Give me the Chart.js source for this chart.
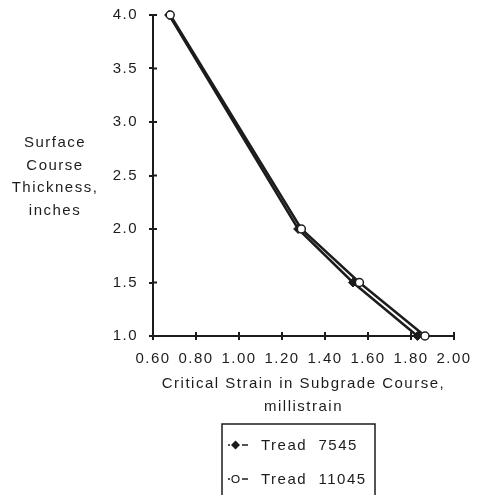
<!DOCTYPE html>
<html>
<head>
<meta charset="utf-8">
<script src="https://cdn.jsdelivr.net/npm/chart.js@4/dist/chart.umd.min.js"></script>
<style>
  html, body { margin: 0; padding: 0; background: #fff; }
  #wrap { width: 477px; height: 495px; position: relative; }
</style>
</head>
<body>
<div id="wrap"><canvas id="c" width="477" height="495"></canvas></div>
<script>
// ---- data ----
const thickness = [4.0, 2.0, 1.5, 1.0];               // surface course thickness, inches
const strain7545 = [0.675, 1.275, 1.53, 1.83];        // millistrain
const strain11045 = [0.68, 1.29, 1.56, 1.865];        // millistrain
const seriesNames = ['Tread  7545', 'Tread  11045'];
const xTickValues = [0.6, 0.8, 1.0, 1.2, 1.4, 1.6, 1.8, 2.0];
const xTickLabels = ['0.60', '0.80', '1.00', '1.20', '1.40', '1.60', '1.80', '2.00'];
const yTickValues = [1.0, 1.5, 2.0, 2.5, 3.0, 3.5, 4.0];
const yTickLabels = ['1.0', '1.5', '2.0', '2.5', '3.0', '3.5', '4.0'];
const xTitle = ['Critical Strain in Subgrade Course,', 'millistrain'];
const yTitle = ['Surface', 'Course', 'Thickness,', 'inches'];

const INK = '#1c1c1c';
const FONT = "'Liberation Sans', Arial, Helvetica, sans-serif";

const pts = (xs) => xs.map((x, i) => ({ x: x, y: thickness[i] }));

const decoPlugin = {
  id: 'deco',
  beforeDraw(chart) {
    chart.ctx.letterSpacing = '1.5px';
  },
  afterDraw(chart) {
    const ctx = chart.ctx;
    const xs = chart.scales.x, ys = chart.scales.y;
    const area = chart.chartArea;
    ctx.save();
    ctx.letterSpacing = '1.5px';
    ctx.strokeStyle = INK;
    ctx.lineWidth = 2;
    // inner halves of crossing tick marks
    ctx.beginPath();
    xs.ticks.forEach(t => {
      const px = xs.getPixelForValue(t.value);
      ctx.moveTo(px, area.bottom - 4);
      ctx.lineTo(px, area.bottom);
    });
    ys.ticks.forEach(t => {
      const py = ys.getPixelForValue(t.value);
      ctx.moveTo(area.left, py);
      ctx.lineTo(area.left + 4, py);
    });
    ctx.stroke();

    // y title (horizontal, stacked)
    ctx.fillStyle = INK;
    ctx.font = '15px ' + FONT;
    ctx.textAlign = 'center';
    ctx.textBaseline = 'middle';
    yTitle.forEach((s, i) => ctx.fillText(s, 55, 143 + i * 22.5));

    // legend box
    const lx = 222, ly = 424, lw = 153, lh = 80;
    ctx.lineWidth = 1.5;
    ctx.strokeRect(lx, ly, lw, lh);
    const rows = [445, 479];
    chart.data.datasets.forEach((ds, i) => {
      const y = rows[i];
      ctx.lineWidth = 1.5;
      ctx.beginPath();
      ctx.moveTo(228, y); ctx.lineTo(230, y);
      ctx.moveTo(242, y); ctx.lineTo(248, y);
      ctx.stroke();
      if (i === 0) {
        ctx.fillStyle = INK;
        ctx.beginPath();
        ctx.moveTo(235.5, y - 4.5); ctx.lineTo(240, y); ctx.lineTo(235.5, y + 4.5); ctx.lineTo(231, y);
        ctx.closePath();
        ctx.fill();
      } else {
        ctx.fillStyle = '#fff';
        ctx.beginPath();
        ctx.arc(235.5, y, 3.5, 0, Math.PI * 2);
        ctx.fill();
        ctx.lineWidth = 1.2;
        ctx.stroke();
      }
      ctx.fillStyle = INK;
      ctx.textAlign = 'left';
      ctx.textBaseline = 'middle';
      ctx.fillText(ds.label, 261, y + 1);
    });
    ctx.restore();
  }
};

new Chart(document.getElementById('c'), {
  type: 'scatter',
  data: {
    datasets: [
      {
        label: seriesNames[0],
        data: pts(strain7545),
        order: 2,
        clip: false,
        showLine: true,
        borderColor: INK,
        borderWidth: 2.5,
        pointStyle: 'rectRot',
        pointRadius: 4.5,
        pointBackgroundColor: INK,
        pointBorderColor: INK,
        pointBorderWidth: 1
      },
      {
        label: seriesNames[1],
        data: pts(strain11045),
        order: 1,
        clip: false,
        showLine: true,
        borderColor: INK,
        borderWidth: 2.5,
        pointStyle: 'circle',
        pointRadius: 4,
        pointBackgroundColor: '#fff',
        pointBorderColor: INK,
        pointBorderWidth: 1.5
      }
    ]
  },
  options: {
    responsive: false,
    animation: false,
    layout: { padding: { top: 15, right: 23, left: 0, bottom: 0 } },
    plugins: {
      legend: { display: false },
      tooltip: { enabled: false }
    },
    scales: {
      x: {
        type: 'linear',
        min: 0.6,
        max: 2.0,
        afterBuildTicks(s) { s.ticks = xTickValues.map(v => ({ value: v })); },
        afterFit(s) { s.height = 159; s.paddingLeft = 0; s.paddingRight = 0; },
        border: { display: true, color: INK, width: 2 },
        grid: { drawOnChartArea: false, drawTicks: true, tickLength: 4, color: INK, lineWidth: 2 },
        ticks: {
          color: INK,
          font: { family: FONT, size: 15 },
          padding: 10,
          maxRotation: 0,
          autoSkip: false,
          callback: (v, i) => xTickLabels[i]
        },
        title: {
          display: true,
          text: xTitle,
          color: INK,
          font: { family: FONT, size: 15, lineHeight: 1.53 },
          padding: { top: 0, bottom: 77 }
        }
      },
      y: {
        type: 'linear',
        min: 1.0,
        max: 4.0,
        afterBuildTicks(s) { s.ticks = yTickValues.map(v => ({ value: v })); },
        afterFit(s) { s.width = 153; s.paddingTop = 0; s.paddingBottom = 0; },
        border: { display: true, color: INK, width: 2 },
        grid: { drawOnChartArea: false, drawTicks: true, tickLength: 4, color: INK, lineWidth: 2 },
        ticks: {
          color: INK,
          font: { family: FONT, size: 15 },
          padding: 11,
          autoSkip: false,
          callback: (v, i) => yTickLabels[i]
        }
      }
    }
  },
  plugins: [decoPlugin]
});
</script>
</body>
</html>
